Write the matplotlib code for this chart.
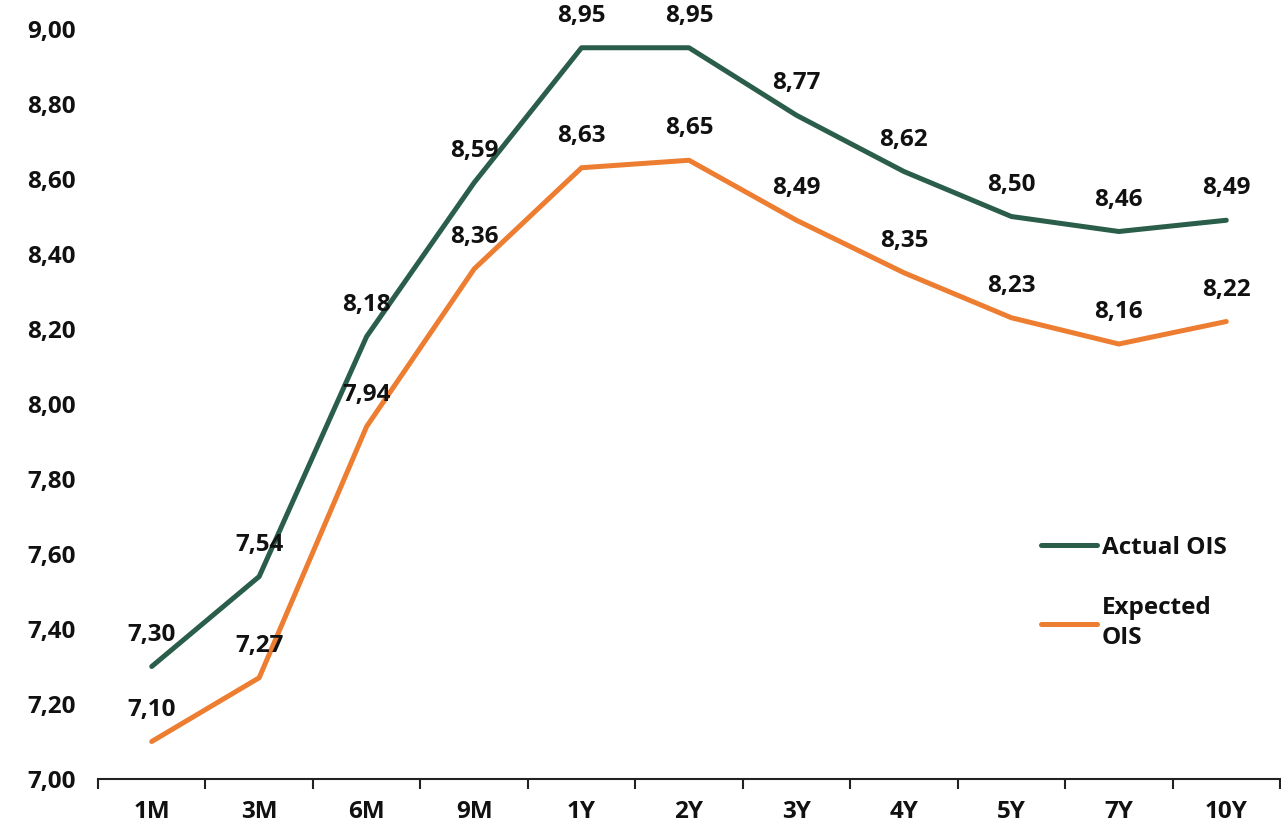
import matplotlib
matplotlib.use('Agg')
import matplotlib.pyplot as plt
from matplotlib.ticker import FixedLocator, FuncFormatter

# Tenors and OIS rates (%)
tenors = ['1M', '3M', '6M', '9M', '1Y', '2Y', '3Y', '4Y', '5Y', '7Y', '10Y']
actual_ois = [7.30, 7.54, 8.18, 8.59, 8.95, 8.95, 8.77, 8.62, 8.50, 8.46, 8.49]
expected_ois = [7.10, 7.27, 7.94, 8.36, 8.63, 8.65, 8.49, 8.35, 8.23, 8.16, 8.22]
y_ticks = [7.0, 7.2, 7.4, 7.6, 7.8, 8.0, 8.2, 8.4, 8.6, 8.8, 9.0]

GREEN = '#2a5e4b'
ORANGE = '#ed7d31'
FS = 17.5

plt.rcParams['font.family'] = ['Open Sans', 'DejaVu Sans']
plt.rcParams['font.weight'] = 'bold'

fig = plt.figure(figsize=(12.81, 8.23), dpi=100)
ax = fig.add_axes([98 / 1281, 1 - 779 / 823, (1280 - 98) / 1281, (779 - 29) / 823])

x = list(range(len(tenors)))
ax.plot(x, actual_ois, color=GREEN, linewidth=3.6, solid_capstyle='round',
        label='Actual OIS', clip_on=False)
ax.plot(x, expected_ois, color=ORANGE, linewidth=3.6, solid_capstyle='round',
        label='Expected\nOIS', clip_on=False)

def comma(v):
    return f'{v:.2f}'.replace('.', ',')

# value labels above each point
for series in (actual_ois, expected_ois):
    for xi, v in zip(x, series):
        ax.annotate(comma(v), (xi, v), xytext=(0, 23), textcoords='offset points',
                    ha='center', va='center', fontsize=FS, fontweight='bold',
                    color='#111111', annotation_clip=False)

ax.set_xlim(-0.5, len(tenors) - 0.5)
ax.set_ylim(7.0, 9.0)

ax.set_xticks(x)
ax.set_xticklabels(tenors)
ax.xaxis.set_minor_locator(FixedLocator([i - 0.5 for i in range(len(tenors) + 1)]))
ax.tick_params(axis='x', which='major', length=0, pad=15, labelsize=FS)
ax.tick_params(axis='x', which='minor', length=7, width=1.5, direction='out',
               color='#222222')

ax.set_yticks(y_ticks)
ax.yaxis.set_major_formatter(FuncFormatter(lambda v, _: comma(v)))
ax.tick_params(axis='y', length=0, pad=16, labelsize=FS)

for lbl in ax.get_xticklabels() + ax.get_yticklabels():
    lbl.set_fontweight('bold')
    lbl.set_color('#111111')

for side in ['top', 'right', 'left']:
    ax.spines[side].set_visible(False)
ax.spines['bottom'].set_linewidth(1.5)
ax.spines['bottom'].set_color('#222222')

leg = ax.legend(loc='upper left', bbox_to_anchor=(1019 / 1281, 1 - 514 / 823),
                bbox_transform=fig.transFigure, frameon=False,
                handlelength=2.3, handletextpad=0.2, labelspacing=1.5,
                prop={'weight': 'bold', 'size': FS})
for t in leg.get_texts():
    t.set_color('#111111')
    t.set_linespacing(1.3)

fig.savefig('out.png', dpi=100)
